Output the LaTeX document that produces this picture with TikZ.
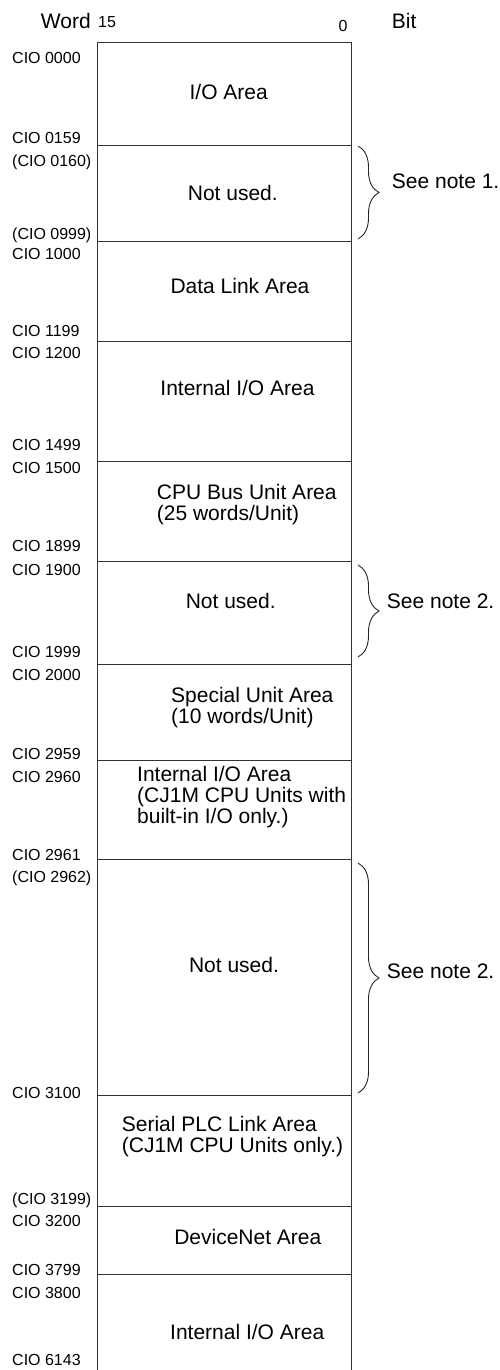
\documentclass[tikz,border=0pt]{standalone}
\usepackage{fontspec}
\setmainfont{Liberation Sans}
\usetikzlibrary{decorations.pathreplacing}
\begin{document}
\begin{tikzpicture}[x=1pt,y=-1pt,
  frame/.style={draw=black!80,line width=0.9pt},
  addr/.style={inner sep=0pt,anchor=base west,font=\fontsize{16}{18}\selectfont},
  bitno/.style={inner sep=0pt,anchor=base,font=\fontsize{16}{18}\selectfont},
  area/.style={inner sep=0pt,anchor=base,font=\fontsize{21}{21}\selectfont},
  arealeft/.style={inner sep=0pt,anchor=base west,font=\fontsize{21}{21}\selectfont},
  head/.style={inner sep=0pt,anchor=base west,font=\fontsize{21}{21}\selectfont},
  bracestyle/.style={draw=black!85,line width=0.9pt,decorate,decoration={brace,amplitude=21pt}}]
\useasboundingbox (0,0) rectangle (500,1370);
% header
\node[head] (word) at (40.7,29) {Word};
\node[bitno,anchor=base west] (b15) at (98,27.7) {15};
\node[bitno] (b0) at (343,31.5) {0};
\node[head] (bit) at (391.7,29) {Bit};
% frame
\coordinate (tl) at (97.7,42.7);
\coordinate (tr) at (351,42.7);
\coordinate (bl) at (97.7,1370);
\coordinate (br) at (351,1370);
\draw[frame] (bl) -- (tl) -- (tr) -- (br);
\foreach \yy in {145,241.7,341,461.7,561,664,760.3,859.7,1095.7,1206.3,1274.3}
  \draw[frame] (97.7,\yy) -- (351,\yy);
% address labels
\node[addr] (a0000) at (12,64) {CIO 0000};
\node[addr] (a0159) at (12,143) {CIO 0159};
\node[addr] (a0160) at (12,166) {(CIO 0160)};
\node[addr] (a0999) at (12,239) {(CIO 0999)};
\node[addr] (a1000) at (12,259.4) {CIO 1000};
\node[addr] (a1199) at (12,336) {CIO 1199};
\node[addr] (a1200) at (12,358) {CIO 1200};
\node[addr] (a1499) at (12,450) {CIO 1499};
\node[addr] (a1500) at (12,473) {CIO 1500};
\node[addr] (a1899) at (12,551) {CIO 1899};
\node[addr] (a1900) at (12,575) {CIO 1900};
\node[addr] (a1999) at (12,657) {CIO 1999};
\node[addr] (a2000) at (12,680) {CIO 2000};
\node[addr] (a2959) at (12,759) {CIO 2959};
\node[addr] (a2960) at (12,782) {CIO 2960};
\node[addr] (a2961) at (12,860) {CIO 2961};
\node[addr] (a2962) at (12,882) {(CIO 2962)};
\node[addr] (a3100) at (12,1098) {CIO 3100};
\node[addr] (a3199) at (12,1204) {(CIO 3199)};
\node[addr] (a3200) at (12,1226) {CIO 3200};
\node[addr] (a3799) at (12,1275) {CIO 3799};
\node[addr] (a3800) at (12,1298) {CIO 3800};
\node[addr] (a6143) at (12,1365) {CIO 6143};
% area texts
\node[area] (io) at (228.7,99.8) {I/O Area};
\node[area] (nu1) at (232.8,200) {Not used.};
\node[area] (dl) at (240,293) {Data Link Area};
\node[area] (iio1) at (237.5,395) {Internal I/O Area};
\node[arealeft] (cpu1) at (156.7,499) {CPU Bus Unit Area};
\node[arealeft] (cpu2) at (156.7,520) {(25 words/Unit)};
\node[area] (nu2) at (230.7,608) {Not used.};
\node[arealeft] (sp1) at (171,702) {Special Unit Area};
\node[arealeft] (sp2) at (171,723) {(10 words/Unit)};
\node[arealeft] (iio2a) at (137,781) {Internal I/O Area};
\node[arealeft] (iio2b) at (137,802) {(CJ1M CPU Units with};
\node[arealeft] (iio2c) at (137,823) {built-in I/O only.)};
\node[area] (nu3) at (234,972) {Not used.};
\node[arealeft] (spl1) at (121.7,1131) {Serial PLC Link Area};
\node[arealeft] (spl2) at (121.7,1152) {(CJ1M CPU Units only.)};
\node[area] (dn) at (247.8,1244.5) {DeviceNet Area};
\node[area] (iio3) at (247.2,1339) {Internal I/O Area};
% braces and notes
\coordinate (br1t) at (358,146);
\coordinate (br1b) at (358,239);
\coordinate (br2t) at (358,565);
\coordinate (br2b) at (358,657);
\coordinate (br3t) at (358,863);
\coordinate (br3b) at (358,1093);
\draw[bracestyle] (br1t) -- (br1b);
\draw[bracestyle] (br2t) -- (br2b);
\draw[bracestyle] (br3t) -- (br3b);
\node[head] (n1) at (391.7,188) {See note 1.};
\node[head] (n2) at (386.7,608) {See note 2.};
\node[head] (n3) at (386.7,978) {See note 2.};
\end{tikzpicture}
\end{document}
